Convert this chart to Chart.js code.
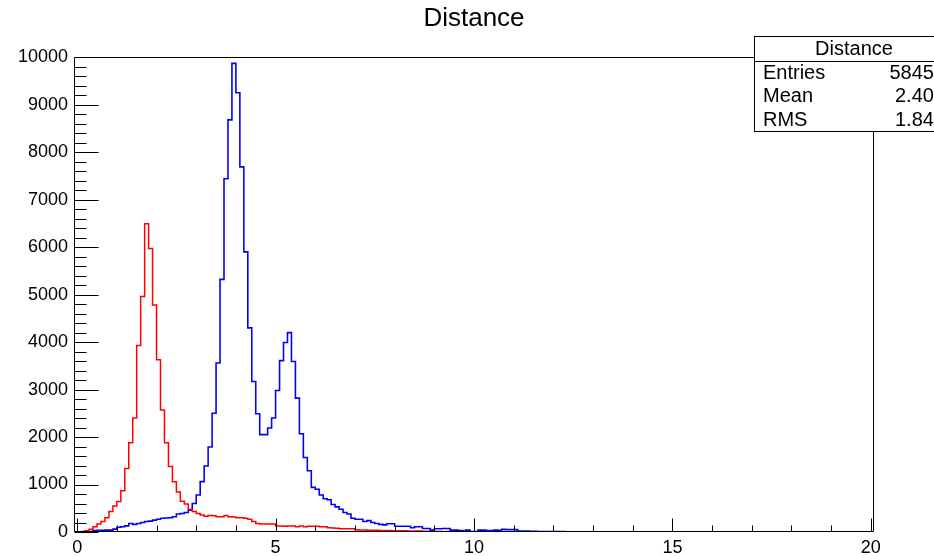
<!DOCTYPE html>
<html>
<head>
<meta charset="utf-8">
<script src="https://cdn.jsdelivr.net/npm/chart.js@4/dist/chart.umd.min.js"></script>
<style>
html,body{margin:0;padding:0;background:#fff;}
canvas{display:block;}
</style>
</head>
<body>
<canvas id="c" width="934" height="556"></canvas>
<script>
// ---------------- data ----------------
const plotTitle = 'Distance';
const binWidth = 0.1;
const binStart = 0;
const xRange = [-0.08, 20.08];
const yRange = [0, 10000];
const xMajorTicks = [0, 5, 10, 15, 20];
const yMajorTicks = [0, 1000, 2000, 3000, 4000, 5000, 6000, 7000, 8000, 9000, 10000];

const redCounts = [
  5, 10, 25, 60, 110, 170, 220, 300, 430, 550,
  640, 870, 1340, 1880, 2400, 3930, 4960, 6490, 5970, 4780,
  3630, 2570, 1880, 1380, 1060, 840, 650, 590, 480, 430,
  390, 360, 330, 345, 340, 320, 320, 345, 320, 315,
  300, 300, 290, 270, 220, 180, 170, 170, 170, 170,
  125, 125, 120, 125, 125, 110, 125, 110, 120, 120,
  120, 110, 110, 90, 85, 80, 70, 70, 70, 70,
  45, 40, 40, 38, 35, 35, 32, 30, 30, 28,
  28, 25, 25, 22, 22, 20, 20, 18, 15, 12,
  8, 10, 6, 8, 5, 6, 4, 5, 3, 4,
  3, 2, 3, 2, 2, 1, 2, 1, 1, 0,
  0, 0, 0, 0, 0, 0, 0, 0, 0, 0,
  0, 0, 0, 0, 0, 0, 0, 0, 0, 0,
  0, 0, 0, 0, 0, 0, 0, 0, 0, 0,
  0, 0, 0, 0, 0, 0, 0, 0, 0, 0,
  0, 0, 0, 0, 0, 0, 0, 0, 0, 0,
  0, 0, 0, 0, 0, 0, 0, 0, 0, 0,
  0, 0, 0, 0, 0, 0, 0, 0, 0, 0,
  0, 0, 0, 0, 0, 0, 0, 0, 0, 0,
  0, 0, 0, 0, 0, 0, 0, 0, 0, 0
];

const blueCounts = [
  0, 2, 5, 10, 30, 35, 35, 40, 40, 60,
  100, 110, 130, 180, 160, 180, 200, 220, 230, 250,
  270, 290, 295, 300, 320, 380, 390, 410, 460, 600,
  780, 1060, 1390, 1790, 2500, 3560, 5320, 7440, 8680, 9870,
  9250, 7690, 5900, 4300, 3170, 2490, 2050, 2050, 2190, 2400,
  2980, 3610, 3990, 4200, 3590, 2820, 2070, 1570, 1290, 940,
  900, 780, 700, 680, 580, 530, 480, 410, 380, 290,
  270, 270, 220, 240, 200, 180, 160, 150, 175, 175,
  120, 120, 120, 120, 90, 110, 110, 75, 75, 40,
  70, 70, 75, 75, 40, 40, 30, 30, 40, 7,
  7, 40, 40, 30, 30, 40, 35, 55, 50, 50,
  50, 20, 20, 18, 15, 15, 12, 12, 10, 10,
  10, 8, 8, 6, 6, 5, 3, 0, 4, 4,
  3, 0, 4, 0, 5, 4, 0, 4, 3, 0,
  0, 3, 0, 0, 0, 0, 0, 3, 0, 0,
  4, 0, 0, 0, 0, 0, 0, 0, 3, 0,
  0, 0, 0, 0, 0, 0, 0, 0, 0, 0,
  0, 0, 0, 0, 0, 0, 0, 0, 0, 0,
  0, 0, 0, 0, 0, 0, 0, 0, 0, 0,
  0, 0, 0, 0, 0, 0, 0, 0, 0, 0
];

const statsTitle = 'Distance';
const statsNames = ['Entries', 'Mean', 'RMS'];
const statsValues = ['58456', '2.403', '1.846'];

// ---------------- build ----------------
const FONT = '"Liberation Sans", Arial, Helvetica, sans-serif';

function histPoints(counts) {
  // one point at each bin's low edge (step "before": the value holds until the next edge),
  // plus a closing point at the last bin's high edge
  const pts = counts.map((c, i) => ({ x: binStart + i * binWidth, y: c }));
  pts.push({ x: binStart + counts.length * binWidth, y: counts[counts.length - 1] });
  return pts;
}

const rootDecor = {
  id: 'rootDecor',
  afterDraw(chart) {
    const { ctx, chartArea: a, scales: { x, y } } = chart;
    ctx.save();
    ctx.strokeStyle = '#000';
    ctx.lineWidth = 1;
    const L = Math.round(a.left) + 0.5, R = Math.round(a.right) - 0.5;
    const T = Math.round(a.top) + 0.5, B = Math.round(a.bottom) - 0.5;
    ctx.beginPath();
    ctx.moveTo(L, T); ctx.lineTo(R, T); ctx.lineTo(R, B); ctx.lineTo(L, B); ctx.closePath();
    ctx.stroke();
    // y ticks (inward)
    ctx.beginPath();
    for (let v = yRange[0]; v <= yRange[1]; v += 200) {
      const py = Math.round(y.getPixelForValue(v)) + 0.5;
      const len = (v % 1000 === 0) ? 24 : 12;
      ctx.moveTo(L, py); ctx.lineTo(L + len, py);
    }
    // x ticks (inward)
    for (let v = 0; v <= 20; v += 1) {
      const px = Math.round(x.getPixelForValue(v)) + 0.5;
      const len = (v % 5 === 0) ? 13 : 6;
      ctx.moveTo(px, B); ctx.lineTo(px, B - len);
    }
    ctx.stroke();

    // stats box
    const bx = 754.5, by = 36.5, bw = 210, bh = 95;
    ctx.fillStyle = '#fff';
    ctx.fillRect(bx, by, bw, bh);
    ctx.strokeRect(bx, by, bw, bh);
    ctx.beginPath();
    ctx.moveTo(bx, 61.5); ctx.lineTo(bx + bw, 61.5);
    ctx.stroke();
    ctx.fillStyle = '#000';
    ctx.font = '20px ' + FONT;
    ctx.textBaseline = 'middle';
    ctx.textAlign = 'center';
    ctx.fillText(statsTitle, 854, 49);
    const rowsY = [73, 96, 120];
    statsNames.forEach((n, i) => {
      ctx.textAlign = 'left';
      ctx.fillText(n, 763, rowsY[i]);
      ctx.textAlign = 'right';
      ctx.fillText(statsValues[i], 945, rowsY[i]);
    });
    ctx.restore();
  }
};

new Chart(document.getElementById('c'), {
  type: 'line',
  data: {
    datasets: [
      { label: 'red', data: histPoints(redCounts), borderColor: '#ff0000', borderWidth: 1.5,
        stepped: 'before', pointRadius: 0, fill: false, tension: 0 },
      { label: 'blue', data: histPoints(blueCounts), borderColor: '#0000ff', borderWidth: 1.6,
        stepped: 'before', pointRadius: 0, fill: false, tension: 0 }
    ]
  },
  options: {
    responsive: false,
    animation: false,
    devicePixelRatio: 1,
    layout: { padding: { left: 0, right: 60, top: 0, bottom: 0 } },
    plugins: {
      legend: { display: false },
      tooltip: { enabled: false },
      title: {
        display: true, text: plotTitle, fullSize: false, color: '#000',
        font: { family: FONT, size: 26, weight: 'normal' },
        padding: { top: 3, bottom: 23 }
      }
    },
    scales: {
      x: {
        type: 'linear', min: xRange[0], max: xRange[1],
        afterBuildTicks(scale) { scale.ticks = xMajorTicks.map(v => ({ value: v })); },
        afterFit(scale) { scale.height = 24; },
        grid: { display: false, drawTicks: false },
        border: { display: false },
        ticks: { color: '#000', font: { family: FONT, size: 18 }, padding: 5, maxRotation: 0, autoSkip: false,
                 callback: v => String(v) }
      },
      y: {
        type: 'linear', min: yRange[0], max: yRange[1],
        afterBuildTicks(scale) { scale.ticks = yMajorTicks.map(v => ({ value: v })); },
        afterFit(scale) { scale.width = 74; },
        grid: { display: false, drawTicks: false },
        border: { display: false },
        ticks: { color: '#000', font: { family: FONT, size: 18 }, padding: 6, autoSkip: false,
                 callback: v => String(v) }
      }
    }
  },
  plugins: [rootDecor]
});
</script>
</body>
</html>
